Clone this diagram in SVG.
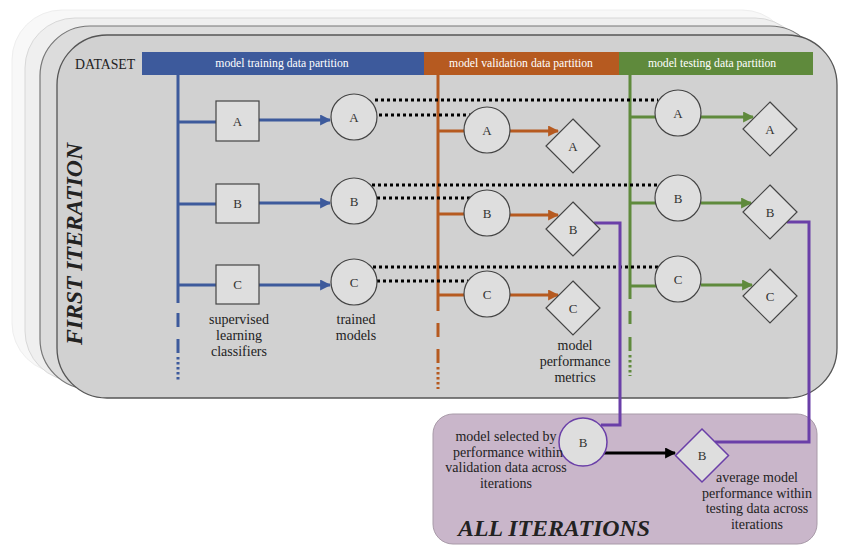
<svg xmlns="http://www.w3.org/2000/svg" width="843" height="550" viewBox="0 0 843 550">
<style>
text{font-family:"Liberation Serif","Times New Roman",serif;fill:#222}
.hdr{font-size:11.7px;fill:#fff;text-anchor:middle}
.lbl{font-size:13px;fill:#333;text-anchor:middle}
.cap{font-size:14px;fill:#222;text-anchor:middle}
.node{fill:#dedede;stroke:#444;stroke-width:1.2}
.pnode{fill:#dedede;stroke:#6a3fa8;stroke-width:1.5}
.blue{stroke:#3d5a9c;stroke-width:3;fill:none}
.orange{stroke:#b65a20;stroke-width:3;fill:none}
.green{stroke:#5f8a3c;stroke-width:3;fill:none}
.purple{stroke:#6a3fa8;stroke-width:3;fill:none}
.black{stroke:#000;stroke-width:3;fill:none}
.dot{stroke:#000;stroke-width:3;fill:none;stroke-dasharray:3 3}
</style>
<defs>
<marker id="ab" viewBox="0 0 10 10" refX="9" refY="5" markerWidth="11" markerHeight="11" markerUnits="userSpaceOnUse" orient="auto"><path d="M0 0L10 5L0 10z" fill="#3d5a9c"/></marker>
<marker id="ao" viewBox="0 0 10 10" refX="9" refY="5" markerWidth="11" markerHeight="11" markerUnits="userSpaceOnUse" orient="auto"><path d="M0 0L10 5L0 10z" fill="#b65a20"/></marker>
<marker id="ag" viewBox="0 0 10 10" refX="9" refY="5" markerWidth="11" markerHeight="11" markerUnits="userSpaceOnUse" orient="auto"><path d="M0 0L10 5L0 10z" fill="#5f8a3c"/></marker>
<marker id="ak" viewBox="0 0 10 10" refX="9" refY="5" markerWidth="11" markerHeight="11" markerUnits="userSpaceOnUse" orient="auto"><path d="M0 0L10 5L0 10z" fill="#000"/></marker>
</defs>

<g id="panels">
<rect x="12" y="10" width="780" height="363" rx="50" fill="#f8f8f8" stroke="#eeeeee" stroke-width="1"/>
<rect x="25" y="18" width="780" height="363" rx="50" fill="#efefef" stroke="#d8d8d8" stroke-width="1"/>
<rect x="40" y="26" width="780" height="363" rx="50" fill="#dcdcdc" stroke="#777" stroke-width="1.2"/>
<rect x="57" y="35" width="780" height="363" rx="50" fill="#d1d1d1" stroke="#555" stroke-width="1.3"/>
<rect x="433" y="414" width="384" height="130" rx="20" fill="#c9b6ca" stroke="#a89aa8" stroke-width="1"/>
</g>

<g id="header">
<text x="75" y="68.5" style="font-size:13.8px">DATASET</text>
<rect x="142" y="52" width="282" height="23" fill="#3d5a9c"/>
<rect x="424" y="52" width="195" height="23" fill="#b65a20"/>
<rect x="619" y="52" width="194" height="23" fill="#5f8a3c"/>
<text class="hdr" x="282" y="67">model training data partition</text>
<text class="hdr" x="521" y="67">model validation data partition</text>
<text class="hdr" x="712" y="67">model testing data partition</text>
</g>

<text x="0" y="0" transform="translate(82,244) rotate(-90)" text-anchor="middle" textLength="202" lengthAdjust="spacingAndGlyphs" style="font-size:23px;font-weight:bold;font-style:italic;fill:#222">FIRST ITERATION</text>
<text x="458" y="536" textLength="192" lengthAdjust="spacingAndGlyphs" style="font-size:23px;font-weight:bold;font-style:italic;fill:#222">ALL ITERATIONS</text>

<g id="connectors">
<path class="blue" d="M178 75V303M178 313V327M178 339V353"/>
<path class="blue" d="M178 357V381" stroke-dasharray="2.5 2.5"/>
<path class="blue" d="M178 122H216M178 204H216M178 285H216"/>
<path class="blue" d="M259 120H330" marker-end="url(#ab)"/>
<path class="blue" d="M259 203H330" marker-end="url(#ab)"/>
<path class="blue" d="M259 285H330" marker-end="url(#ab)"/>
<path class="orange" d="M438 75V311M438 323V337M438 349V363"/>
<path class="orange" d="M438 367V389" stroke-dasharray="2.5 2.5"/>
<path class="orange" d="M438 131H464M438 214H464M438 295H464"/>
<path class="orange" d="M510 131H558" marker-end="url(#ao)"/>
<path class="orange" d="M510 215H558" marker-end="url(#ao)"/>
<path class="orange" d="M510 295H558" marker-end="url(#ao)"/>
<path class="green" d="M630 75V299M630 311V324M630 337V351"/>
<path class="green" d="M630 355V376" stroke-dasharray="2.5 2.5"/>
<path class="green" d="M630 117H655M630 203H656M630 286H657"/>
<path class="green" d="M701 117H753" marker-end="url(#ag)"/>
<path class="green" d="M701 203H751" marker-end="url(#ag)"/>
<path class="green" d="M701 285H752" marker-end="url(#ag)"/>
<path class="dot" d="M375 100H658M379 115H470"/>
<path class="dot" d="M372 185H659M377 198H470"/>
<path class="dot" d="M373 267H658M377 281H468"/>
<path class="purple" d="M594 223H620V425H601"/>
<path class="purple" d="M787 222H809V442H715"/>
<path class="black" d="M604 453H675" marker-end="url(#ak)"/>
</g>

<g id="classifierA"><rect class="node" x="216" y="101" width="43" height="40"/><text class="lbl" x="237.5" y="125.5">A</text></g>
<g id="classifierB"><rect class="node" x="216" y="184" width="43" height="39"/><text class="lbl" x="237.5" y="208">B</text></g>
<g id="classifierC"><rect class="node" x="216" y="265" width="43" height="39"/><text class="lbl" x="237.5" y="289">C</text></g>

<g id="trainedA"><circle class="node" cx="354" cy="117" r="23"/><text class="lbl" x="354" y="121.5">A</text></g>
<g id="trainedB"><circle class="node" cx="354" cy="201" r="23"/><text class="lbl" x="354" y="205.5">B</text></g>
<g id="trainedC"><circle class="node" cx="354" cy="282" r="23"/><text class="lbl" x="354" y="286.5">C</text></g>

<g id="valA"><circle class="node" cx="487" cy="130" r="23"/><text class="lbl" x="487" y="134.5">A</text></g>
<g id="valB"><circle class="node" cx="487" cy="213" r="23"/><text class="lbl" x="487" y="217.5">B</text></g>
<g id="valC"><circle class="node" cx="487" cy="294" r="23"/><text class="lbl" x="487" y="298.5">C</text></g>

<g id="valPerfA"><path class="node" d="M573 119L600 146L573 173L546 146z"/><text class="lbl" x="573" y="150.5">A</text></g>
<g id="valPerfB"><path class="node" d="M573 202L600 229L573 256L546 229z"/><text class="lbl" x="573" y="233.5">B</text></g>
<g id="valPerfC"><path class="node" d="M573 281L600 308L573 335L546 308z"/><text class="lbl" x="573" y="312.5">C</text></g>

<g id="testA"><circle class="node" cx="678" cy="113" r="23"/><text class="lbl" x="678" y="117.5">A</text></g>
<g id="testB"><circle class="node" cx="678" cy="198" r="23"/><text class="lbl" x="678" y="202.5">B</text></g>
<g id="testC"><circle class="node" cx="678" cy="279" r="23"/><text class="lbl" x="678" y="283.5">C</text></g>

<g id="testPerfA"><path class="node" d="M770 102L797 129L770 156L743 129z"/><text class="lbl" x="770" y="133.5">A</text></g>
<g id="testPerfB"><path class="node" d="M770 185L797 212L770 239L743 212z"/><text class="lbl" x="770" y="216.5">B</text></g>
<g id="testPerfC"><path class="node" d="M770 269L797 296L770 323L743 296z"/><text class="lbl" x="770" y="300.5">C</text></g>

<g id="captions">
<text class="cap" x="239" y="324">supervised</text>
<text class="cap" x="239" y="340">learning</text>
<text class="cap" x="239" y="356">classifiers</text>
<text class="cap" x="356" y="324">trained</text>
<text class="cap" x="356" y="340">models</text>
<text class="cap" x="575" y="350">model</text>
<text class="cap" x="575" y="366">performance</text>
<text class="cap" x="575" y="382">metrics</text>
</g>

<g id="selectedB"><circle class="pnode" cx="583" cy="442" r="24"/><text class="lbl" x="583" y="446.5">B</text></g>
<g id="avgPerfB"><path class="pnode" d="M702 429L728.5 455.5L702 482L675.5 455.5z"/><text class="lbl" x="702" y="460">B</text></g>

<g id="allCaptions">
<text class="cap" x="506" y="441">model selected by</text>
<text class="cap" x="508" y="456.5">performance within</text>
<text class="cap" x="506" y="472">validation data across</text>
<text class="cap" x="506" y="487.5">iterations</text>
<text class="cap" x="757" y="482">average model</text>
<text class="cap" x="757" y="497.5">performance within</text>
<text class="cap" x="757" y="513">testing data across</text>
<text class="cap" x="757" y="528.5">iterations</text>
</g>
</svg>
